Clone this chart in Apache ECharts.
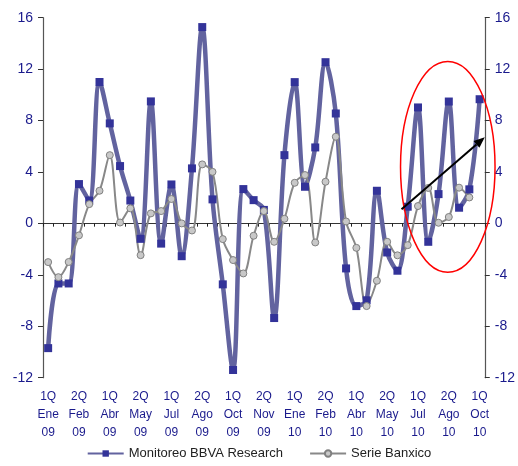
<!DOCTYPE html>
<html>
<head>
<meta charset="utf-8">
<script src="https://cdn.jsdelivr.net/npm/echarts@6/dist/echarts.min.js"></script>
<style>html,body{margin:0;padding:0;background:#fff}#c{width:518px;height:466px}</style>
</head>
<body>
<div id="c"></div>
<script>
var categories = [
 "1Q\nEne\n09","2Q\nEne\n09","1Q\nFeb\n09","2Q\nFeb\n09","1Q\nMar\n09","2Q\nMar\n09",
 "1Q\nAbr\n09","2Q\nAbr\n09","1Q\nMay\n09","2Q\nMay\n09","1Q\nJun\n09","2Q\nJun\n09",
 "1Q\nJul\n09","2Q\nJul\n09","1Q\nAgo\n09","2Q\nAgo\n09","1Q\nSep\n09","2Q\nSep\n09",
 "1Q\nOct\n09","2Q\nOct\n09","1Q\nNov\n09","2Q\nNov\n09","1Q\nDic\n09","2Q\nDic\n09",
 "1Q\nEne\n10","2Q\nEne\n10","1Q\nFeb\n10","2Q\nFeb\n10","1Q\nMar\n10","2Q\nMar\n10",
 "1Q\nAbr\n10","2Q\nAbr\n10","1Q\nMay\n10","2Q\nMay\n10","1Q\nJun\n10","2Q\nJun\n10",
 "1Q\nJul\n10","2Q\nJul\n10","1Q\nAgo\n10","2Q\nAgo\n10","1Q\nSep\n10","2Q\nSep\n10",
 "1Q\nOct\n10"
];
var monitoreoBBVA = [-9.7, -4.67, -4.67, 3.06, 1.78, 11.0, 7.78, 4.46, 1.78, -1.2,
 9.49, -1.57, 3.03, -2.55, 4.28, 15.27, 1.87, -4.74, -11.4, 2.67,
 1.81, 1.05, -7.36, 5.31, 10.99, 2.85, 5.91, 12.54, 8.55, -3.5,
 -6.43, -5.98, 2.54, -2.26, -3.68, 1.3, 9.02, -1.43, 2.28, 9.48,
 1.22, 2.65, 9.66];
var serieBanxico = [-3.01, -4.18, -3.0, -0.93, 1.5, 2.54, 5.31, 0.07, 1.17, -2.47,
 0.78, 0.96, 1.9, 0.0, -0.55, 4.59, 4.01, -1.22, -2.85, -3.89,
 -0.96, 0.96, -1.43, 0.36, 3.16, 3.76, -1.48, 3.24, 6.74, 0.15,
 -1.9, -6.43, -4.46, -1.43, -2.48, -1.69, 1.35, 2.76, 0.05, 0.5,
 2.78, 2.02];
var seriesNames = ["Monitoreo BBVA Research", "Serie Banxico"];
var yTicks = {min: -12, max: 16, interval: 4};
// annotation in data units: [categoryIndex, value]
var ellipseCenter = [38.9, 4.4];
var ellipseRadii = [4.6, 8.2];
var arrowFrom = [34.4, 1.1];
var arrowTo = [42.5, 6.7];

var FONT = 'Arial, "Liberation Sans", sans-serif';
var NAVY = '#1a1a8c';
var chart = echarts.init(document.getElementById('c'));
var yAxisCommon = {
  type: 'value', min: yTicks.min, max: yTicks.max, interval: yTicks.interval,
  splitLine: {show: false},
  axisLine: {show: true, lineStyle: {color: '#555', width: 1.2}},
  axisTick: {show: true, length: 5, lineStyle: {color: '#333'}},
  axisLabel: {color: NAVY, fontSize: 14, fontFamily: FONT, margin: 10}
};
chart.setOption({
  animation: false,
  backgroundColor: '#fff',
  grid: {left: 43, right: 32, top: 17.7, bottom: 88.3},
  legend: {
    bottom: 1, left: 'center', itemWidth: 36, itemHeight: 8, itemGap: 26,
    textStyle: {color: '#222', fontSize: 13, fontFamily: FONT},
    data: seriesNames
  },
  xAxis: [{
    type: 'category', data: categories, boundaryGap: true,
    axisLine: {onZero: true, lineStyle: {color: '#333', width: 1.2}},
    axisTick: {show: true, length: 3, interval: 0, lineStyle: {color: '#222'}},
    axisLabel: {show: false}
  }, {
    type: 'category', data: categories, boundaryGap: true, position: 'bottom',
    axisLine: {show: false, onZero: false}, axisTick: {show: false},
    axisLabel: {interval: 2, color: NAVY, fontSize: 12, lineHeight: 18, fontFamily: FONT, margin: 10}
  }, {
    type: 'category', data: categories, boundaryGap: true,
    axisLine: {show: false, onZero: true},
    axisTick: {show: true, inside: true, length: 3, interval: 0, lineStyle: {color: '#222'}},
    axisLabel: {show: false}
  }],
  yAxis: [Object.assign({position: 'left'}, yAxisCommon),
          Object.assign({position: 'right'}, yAxisCommon)],
  series: [{
    name: seriesNames[0], type: 'line', data: monitoreoBBVA, smooth: 0.35,
    symbol: 'rect', symbolSize: 8, showSymbol: true, showAllSymbol: true,
    lineStyle: {color: '#62639f', width: 4.5},
    itemStyle: {color: '#333399', borderWidth: 0}
  }, {
    name: seriesNames[1], type: 'line', data: serieBanxico, smooth: 0.35,
    symbol: 'circle', symbolSize: 7, showSymbol: true, showAllSymbol: true,
    lineStyle: {color: '#888', width: 2},
    itemStyle: {color: '#c8c8c8', borderColor: '#808080', borderWidth: 1}
  }]
});

function px(pt) {
  var a = chart.convertToPixel({xAxisIndex: 0}, 0);
  var b = chart.convertToPixel({xAxisIndex: 0}, 1);
  var x = a + (b - a) * pt[0];
  var y = chart.convertToPixel({yAxisIndex: 0}, pt[1]);
  return [x, y];
}
var c = px(ellipseCenter);
var ex = px([ellipseCenter[0] + ellipseRadii[0], ellipseCenter[1] + ellipseRadii[1]]);
var p0 = px(arrowFrom), p1 = px(arrowTo);
var dx = p1[0] - p0[0], dy = p1[1] - p0[1], L = Math.sqrt(dx*dx + dy*dy);
var ux = dx / L, uy = dy / L, hl = 11, hw = 4.5;
var base = [p1[0] - ux*hl, p1[1] - uy*hl];
chart.setOption({
  graphic: [{
    type: 'ellipse', z: 100,
    shape: {cx: c[0], cy: c[1], rx: Math.abs(ex[0]-c[0]), ry: Math.abs(ex[1]-c[1])},
    style: {fill: 'none', stroke: '#ff0000', lineWidth: 1.5}
  }, {
    type: 'line', z: 101,
    shape: {x1: p0[0], y1: p0[1], x2: base[0], y2: base[1]},
    style: {stroke: '#000', lineWidth: 2}
  }, {
    type: 'polygon', z: 101,
    shape: {points: [p1, [base[0] - uy*hw, base[1] + ux*hw], [base[0] + uy*hw, base[1] - ux*hw]]},
    style: {fill: '#000'}
  }]
});
</script>
</body>
</html>
